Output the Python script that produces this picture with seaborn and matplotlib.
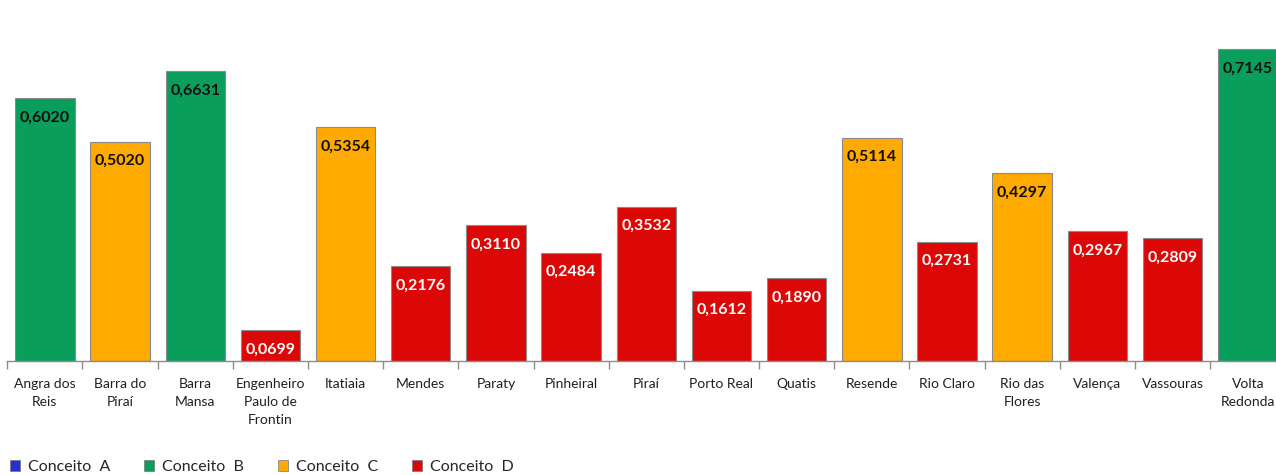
import matplotlib
matplotlib.use("Agg")
import matplotlib.pyplot as plt
from matplotlib.patches import Patch
import seaborn as sns
import pandas as pd

categories = ["Angra dos\nReis", "Barra do\nPiraí", "Barra\nMansa", "Engenheiro\nPaulo de\nFrontin",
              "Itatiaia", "Mendes", "Paraty", "Pinheiral", "Piraí", "Porto Real", "Quatis",
              "Resende", "Rio Claro", "Rio das\nFlores", "Valença", "Vassouras", "Volta\nRedonda"]
values = [0.6020, 0.5020, 0.6631, 0.0699, 0.5354, 0.2176, 0.3110, 0.2484, 0.3532,
          0.1612, 0.1890, 0.5114, 0.2731, 0.4297, 0.2967, 0.2809, 0.7145]
concepts = ["Conceito  B", "Conceito  C", "Conceito  B", "Conceito  D", "Conceito  C", "Conceito  D",
            "Conceito  D", "Conceito  D", "Conceito  D", "Conceito  D", "Conceito  D", "Conceito  C",
            "Conceito  D", "Conceito  C", "Conceito  D", "Conceito  D", "Conceito  B"]
legend_labels = ["Conceito  A", "Conceito  B", "Conceito  C", "Conceito  D"]
colors = {"Conceito  A": "#2430d0", "Conceito  B": "#0a9e5c",
          "Conceito  C": "#ffaa00", "Conceito  D": "#dc0808"}
text_colors = {"Conceito  B": "#101010", "Conceito  C": "#101010", "Conceito  D": "white"}

sns.set_theme(style="white")
plt.rcParams['font.family'] = ['Lato', 'DejaVu Sans']

df = pd.DataFrame({"cat": categories, "val": values, "conc": concepts})

fig = plt.figure(figsize=(12.76, 4.75), dpi=100)
ax = fig.add_axes([7.3 / 1276, 114 / 475, 1278 / 1276, 361 / 475])
sns.barplot(data=df, x="cat", y="val", hue="conc", palette=colors, dodge=False,
            width=0.79, legend=False, ax=ax, edgecolor="#8a8a8a", linewidth=0.8,
            saturation=1)

for i, (v, c) in enumerate(zip(values, concepts)):
    ax.annotate(f"{v:.4f}".replace(".", ","), xy=(i, v), xytext=(0, -9),
                textcoords="offset points", ha="center", va="top",
                fontsize=11.5, fontweight="bold", color=text_colors[c])

ax.set_xlim(-0.5, len(categories) - 0.5)
ax.set_ylim(0, 0.8267)
ax.set_xlabel("")
ax.set_ylabel("")
ax.set_yticks([])
for s in ["top", "right", "left"]:
    ax.spines[s].set_visible(False)
ax.spines["bottom"].set_color("#8c8c8c")
ax.spines["bottom"].set_linewidth(1.0)

ax.set_xticks(range(len(categories)))
ax.set_xticklabels(categories, fontsize=10, color="#202020", linespacing=1.6, va="top")
ax.tick_params(axis="x", which="major", length=0, pad=12)
ax.set_xticks([i - 0.5 for i in range(len(categories) + 1)], minor=True)
ax.tick_params(axis="x", which="minor", bottom=True, length=6, color="#8c8c8c", width=1)

handles = [Patch(facecolor=colors[l], edgecolor="#777777", linewidth=0.5) for l in legend_labels]
fig.legend(handles, legend_labels, loc="lower left", bbox_to_anchor=(0.005, -0.005), ncol=4,
           frameon=False, fontsize=11.5, handlelength=0.65, handleheight=0.65,
           handletextpad=0.5, columnspacing=2.1, borderaxespad=0.0, borderpad=0.2)

fig.savefig("out.png", dpi=100)
